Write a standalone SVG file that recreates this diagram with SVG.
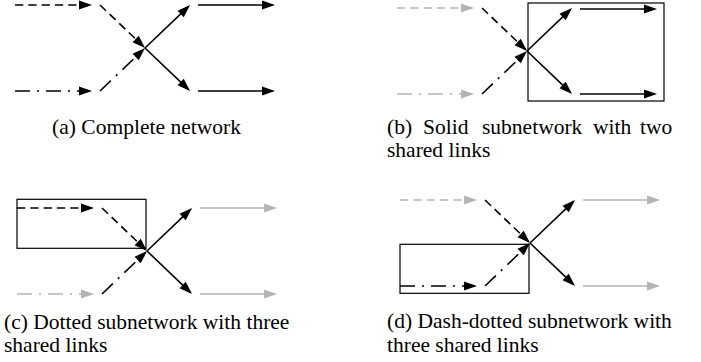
<svg xmlns="http://www.w3.org/2000/svg" width="701" height="362" viewBox="0 0 701 362">
<style>
.ln{fill:none;stroke-width:1.6}
.k{stroke:#000;marker-end:url(#ak)}
.g{stroke:#b4b4b4;marker-end:url(#ag)}
.dash{stroke-dasharray:8.3,5}
.dd{stroke-dasharray:15,7,2,7}
.box{fill:none;stroke:#000;stroke-width:1.2}
.cap{font-family:"Liberation Serif","Times New Roman",serif;font-size:21.5px;fill:#000}
</style>
<defs>
<marker id="ak" markerUnits="userSpaceOnUse" viewBox="0 0 13 9" markerWidth="13" markerHeight="9" refX="11" refY="4.5" orient="auto" overflow="visible"><path d="M0,0 L13,4.5 L0,9 z" fill="#000"/></marker>
<marker id="ag" markerUnits="userSpaceOnUse" viewBox="0 0 13 9" markerWidth="13" markerHeight="9" refX="11" refY="4.5" orient="auto" overflow="visible"><path d="M0,0 L13,4.5 L0,9 z" fill="#b4b4b4"/></marker>
</defs>

<g id="panel-a">
<g id="connectors-a" class="ln">
<path class="k dash" d="M15,5 L90,5"/>
<path class="k dd" d="M15,91 L90,91"/>
<path class="k dash" d="M100,5 L143.6,46.6"/>
<path class="k dd" d="M100,91 L143.6,49.4"/>
<path class="k" d="M145,48 L188.6,6.4"/>
<path class="k" d="M145,48 L188.6,89.6"/>
<path class="k" d="M198,5 L273,5"/>
<path class="k" d="M198,91 L273,91"/>
</g>
<text class="cap" x="52" y="134" textLength="189" lengthAdjust="spacing">(a) Complete network</text>
</g>

<g id="panel-b">
<g transform="translate(382,3)">
<g id="connectors-b" class="ln">
<path class="g dash" d="M15,5 L90,5"/>
<path class="g dd" d="M15,91 L90,91"/>
<path class="k dash" d="M100,5 L143.6,46.6"/>
<path class="k dd" d="M100,91 L143.6,49.4"/>
<path class="k" d="M145,48 L188.6,6.4"/>
<path class="k" d="M145,48 L188.6,89.6"/>
<path class="k" d="M198,6 L273,6"/>
<path class="k" d="M198,91 L273,91"/>
</g>
<g id="box-b"><rect class="box" x="146" y="0" width="136" height="98"/></g>
</g>
<text class="cap" y="133.5"><tspan x="387">(b)</tspan><tspan x="423">Solid</tspan><tspan x="482">subnetwork</tspan><tspan x="593">with</tspan><tspan x="640">two</tspan></text>
<text class="cap" x="387" y="156.5">shared links</text>
</g>

<g id="panel-c">
<g transform="translate(2,203)">
<g id="connectors-c" class="ln">
<path class="k dash" d="M15,5 L90,5"/>
<path class="g dd" d="M15,91 L90,91"/>
<path class="k dash" d="M100,5 L143.6,46.6"/>
<path class="k dd" d="M100,91 L143.6,49.4"/>
<path class="k" d="M145,48 L188.6,6.4"/>
<path class="k" d="M145,48 L188.6,89.6"/>
<path class="g" d="M198,5 L273,5"/>
<path class="g" d="M198,91 L273,91"/>
</g>
<g id="box-c"><rect class="box" x="15" y="-3.7" width="129" height="49"/></g>
</g>
<text class="cap" x="4" y="328.7">(c) Dotted subnetwork with three</text>
<text class="cap" x="4" y="352">shared links</text>
</g>

<g id="panel-d">
<g transform="translate(385,195)">
<g id="connectors-d" class="ln">
<path class="g dash" d="M15,5 L90,5"/>
<path class="k dd" d="M15,91 L90,91"/>
<path class="k dash" d="M100,5 L143.6,46.6"/>
<path class="k dd" d="M100,91 L143.6,49.4"/>
<path class="k" d="M145,48 L188.6,6.4"/>
<path class="k" d="M145,48 L188.6,89.6"/>
<path class="g" d="M198,5 L273,5"/>
<path class="g" d="M198,91 L273,91"/>
</g>
<g id="box-d"><rect class="box" x="15" y="49.3" width="129" height="49"/></g>
</g>
<text class="cap" x="387" y="328.3">(d) Dash-dotted subnetwork with</text>
<text class="cap" x="387" y="352.3">three shared links</text>
</g>
</svg>
